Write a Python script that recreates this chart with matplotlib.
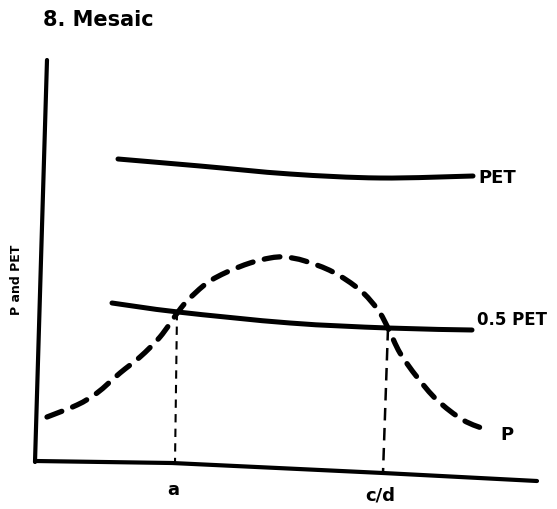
import matplotlib
matplotlib.use("Agg")
import matplotlib.pyplot as plt
from matplotlib.path import Path
from matplotlib.patches import PathPatch

# Hand-drawn schematic, values in image-like units (x right, y down)
title = "8. Mesaic"
y_label = "P and PET"
tick_labels = ["a", "c/d"]

yaxis_x = [47, 41, 35]
yaxis_y = [60, 260, 462]
xaxis_x = [35, 172, 383, 537]
xaxis_y = [461, 463, 473, 481]

pet_x = [118, 200, 290, 380, 473]
pet_y = [159, 166, 174, 178, 176]

half_pet_x = [112, 178, 290, 388, 472]
half_pet_y = [303, 312, 323, 328, 330]

p_x = [47, 77, 97, 120, 140, 160, 178, 188, 207, 227, 250, 270, 285, 305, 333,
       360, 378, 388, 400, 417, 437, 463, 487]
p_y = [417, 405, 393, 373, 357, 337, 312, 300, 283, 272, 263, 258, 257, 261, 272,
       290, 310, 328, 353, 377, 400, 420, 430]

drop_a_x = [177, 175]
drop_a_y = [312, 463]
drop_cd_x = [388, 383]
drop_cd_y = [328, 473]


def smooth_path(xs, ys):
    """Cubic Bezier path through the given points (Catmull-Rom tangents)."""
    pts = list(zip(xs, ys))
    verts = [pts[0]]
    codes = [Path.MOVETO]
    n = len(pts)
    for i in range(n - 1):
        p0 = pts[i - 1] if i > 0 else pts[i]
        p1 = pts[i]
        p2 = pts[i + 1]
        p3 = pts[i + 2] if i + 2 < n else pts[i + 1]
        c1 = (p1[0] + (p2[0] - p0[0]) / 6.0, p1[1] + (p2[1] - p0[1]) / 6.0)
        c2 = (p2[0] - (p3[0] - p1[0]) / 6.0, p2[1] - (p3[1] - p1[1]) / 6.0)
        verts += [c1, c2, p2]
        codes += [Path.CURVE4] * 3
    return Path(verts, codes)


fig = plt.figure(figsize=(5.57, 5.09), dpi=100)
ax = fig.add_axes([0, 0, 1, 1])
ax.set_xlim(0, 557)
ax.set_ylim(509, 0)
ax.axis("off")

ax.plot(yaxis_x, yaxis_y, color="black", lw=3.0, solid_capstyle="round")
ax.plot(xaxis_x, xaxis_y, color="black", lw=3.0, solid_capstyle="round")

ax.add_patch(PathPatch(smooth_path(pet_x, pet_y), fill=False, edgecolor="black",
                       lw=3.6, capstyle="round"))
ax.add_patch(PathPatch(smooth_path(half_pet_x, half_pet_y), fill=False,
                       edgecolor="black", lw=3.6, capstyle="round"))
ax.add_patch(PathPatch(smooth_path(p_x, p_y), fill=False, edgecolor="black",
                       lw=3.8, linestyle=(0, (3.0, 2.2)), capstyle="round"))

ax.plot(drop_a_x, drop_a_y, color="black", lw=1.5, linestyle=(0, (4, 3)))
ax.plot(drop_cd_x, drop_cd_y, color="black", lw=1.8, linestyle=(0, (5, 3)))

ax.text(43, 20, title, fontsize=15, fontweight="bold", ha="left", va="center")
ax.text(17, 280, y_label, fontsize=9, fontweight="bold", rotation=90,
        ha="center", va="center")
ax.text(478, 178, "PET", fontsize=13, fontweight="bold", ha="left", va="center")
ax.text(477, 320, "0.5 PET", fontsize=12, fontweight="bold", ha="left", va="center")
ax.text(500, 435, "P", fontsize=13, fontweight="bold", ha="left", va="center")
ax.text(173, 490, tick_labels[0], fontsize=13, fontweight="bold", ha="center", va="center")
ax.text(380, 496, tick_labels[1], fontsize=13, fontweight="bold", ha="center", va="center")

fig.savefig("out.png", dpi=100)
